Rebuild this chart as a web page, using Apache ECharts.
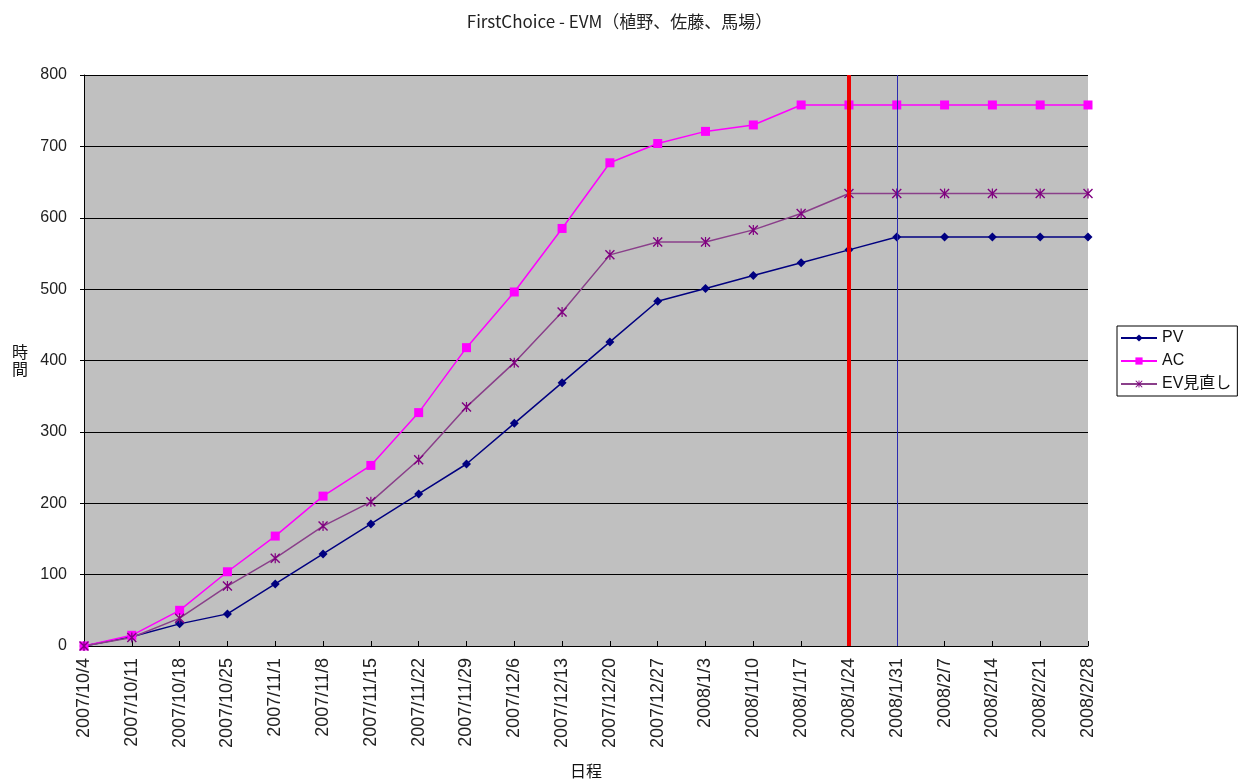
<!DOCTYPE html>
<html>
<head>
<meta charset="utf-8">
<script src="https://cdn.jsdelivr.net/npm/echarts@6/dist/echarts.min.js"></script>
<style>
html,body{margin:0;padding:0;background:#fff;}
#c{width:1239px;height:783px;}
</style>
</head>
<body>
<div id="c"></div>
<script>
const categories = ['2007/10/4','2007/10/11','2007/10/18','2007/10/25','2007/11/1','2007/11/8','2007/11/15','2007/11/22','2007/11/29','2007/12/6','2007/12/13','2007/12/20','2007/12/27','2008/1/3','2008/1/10','2008/1/17','2008/1/24','2008/1/31','2008/2/7','2008/2/14','2008/2/21','2008/2/28'];
const pvValues = [0,13,31,45,87,129,171,213,255,312,369,426,483,501,519,537,555,573,573,573,573,573];
const acValues = [0,15,50,104,154,210,253,327,418,496,585,677,704,721,730,758,758,758,758,758,758,758];
const evValues = [0,12,39,84,123,168,202,261,335,397,468,548,566,566,583,606,634,634,634,634,634,634];
const seriesNames = ['PV','AC','EV見直し'];
const statusDate = '2008/1/24';
const baselineDate = '2008/1/31';
const yTicks = {min:0, max:800, interval:100};

const asterisk = 'path://M4.4,0 L5.6,0 L5.6,10 L4.4,10 Z M0,1 L1,0 L10,9 L9,10 Z M9,0 L10,1 L1,10 L0,9 Z';
const font = '"Liberation Sans", Arial, "Noto Sans CJK JP", sans-serif';

const chart = echarts.init(document.getElementById('c'));
chart.setOption({
  animation:false,
  backgroundColor:'#fff',
  title:{
    text:'FirstChoice - EVM（植野、佐藤、馬場）',
    left:'center', top:8,
    textStyle:{fontSize:17, fontWeight:'normal', color:'#222', fontFamily:'"Noto Sans CJK JP", "Liberation Sans", sans-serif'}
  },
  legend:{
    orient:'vertical', left:1117, top:326,
    data:seriesNames,
    backgroundColor:'#fff', borderColor:'#000', borderWidth:1,
    padding:[4,6,4,3], itemWidth:36, itemHeight:9, itemGap:7,
    textStyle:{fontSize:16, color:'#111', fontFamily:font}
  },
  grid:{left:84, right:151, top:75, bottom:137, outerBoundsMode:'none', containLabel:false, show:true, backgroundColor:'#c0c0c0', borderWidth:0},
  xAxis:{
    type:'category', data:categories, boundaryGap:false,
    name:'日程', nameLocation:'middle', nameGap:117,
    nameTextStyle:{fontSize:16, color:'#111', fontFamily:'"Noto Sans CJK JP", sans-serif'},
    axisLine:{lineStyle:{color:'#000', width:1}},
    axisTick:{show:true, inside:true, length:5, lineStyle:{color:'#000'}},
    axisLabel:{rotate:90, interval:0, fontSize:18, color:'#222', margin:12, fontFamily:font},
    splitLine:{show:false}
  },
  yAxis:{
    type:'value', min:yTicks.min, max:yTicks.max, interval:yTicks.interval,
    name:'時\n間', nameLocation:'middle', nameRotate:0, nameGap:56,
    nameTextStyle:{fontSize:16, color:'#111', fontFamily:'"Noto Sans CJK JP", sans-serif', lineHeight:17},
    axisLine:{show:true, lineStyle:{color:'#000', width:1}},
    axisTick:{show:true, length:4, lineStyle:{color:'#000'}},
    axisLabel:{fontSize:16, color:'#222', margin:17, fontFamily:font},
    splitLine:{show:true, lineStyle:{color:'#000', width:1}}
  },
  series:[
    {
      name:'marks', type:'line', data:[], z:1, silent:true,
      markLine:{
        silent:true, symbol:'none', label:{show:false},
        data:[
          {xAxis:statusDate, lineStyle:{color:'#ee0000', width:4, type:'solid'}},
          {xAxis:baselineDate, lineStyle:{color:'#2b2bb0', width:1, type:'solid'}}
        ]
      }
    },
    {
      name:seriesNames[0], type:'line', data:pvValues, z:3,
      symbol:'diamond', symbolSize:9,
      lineStyle:{color:'#000080', width:1.5},
      itemStyle:{color:'#000080'}
    },
    {
      name:seriesNames[1], type:'line', data:acValues, z:3,
      symbol:'rect', symbolSize:9,
      lineStyle:{color:'#ff00ff', width:1.5},
      itemStyle:{color:'#ff00ff'}
    },
    {
      name:seriesNames[2], type:'line', data:evValues, z:3,
      symbol:asterisk, symbolSize:10,
      lineStyle:{color:'#8a3f8a', width:1.5},
      itemStyle:{color:'#800080'}
    }
  ]
});
</script>
</body>
</html>
